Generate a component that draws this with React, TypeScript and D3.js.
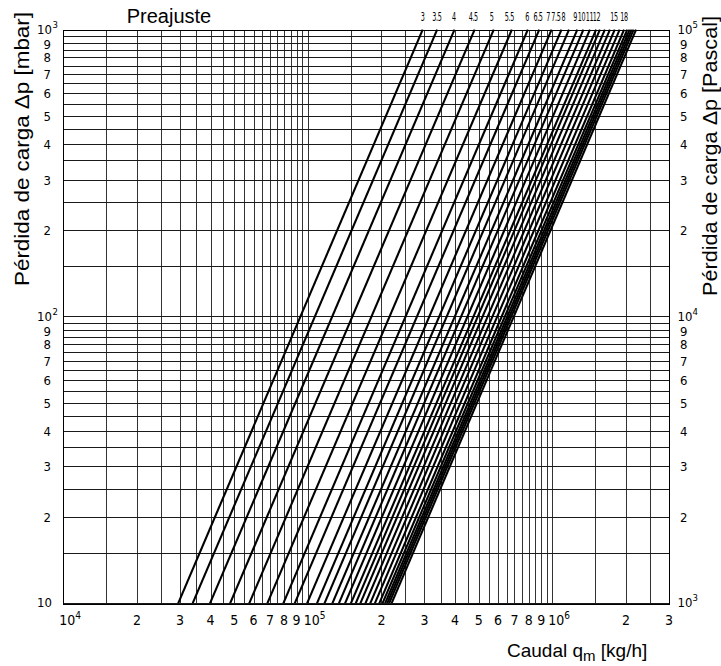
// D3.js — Pressure drop vs. flow chart (log-log), per preset
import React, { useEffect, useRef } from "react";
import * as d3 from "d3";

// Flow (kg/h) of each preset line where it meets 10 mbar and 1000 mbar
const qAt10 = [
  29500, 33800, 39800, 48100, 57600, 68300, 79400, 88400, 99300, 109000,
  117000, 126000, 134000, 142000, 150000, 157000, 164000, 172000, 180000,
  188000, 196000, 202000, 207000, 211000, 215000, 220000,
];
const qAt1000 = [
  295000, 338000, 398000, 481000, 576000, 683000, 794000, 884000, 993000,
  1090000, 1170000, 1265000, 1340000, 1425000, 1510000, 1565000, 1640000,
  1720000, 1800000, 1885000, 1965000, 2025000, 2070000, 2110000, 2150000,
  2200000,
];

// Preset labels along the top edge and the flow they sit above
const presetLabels = ["3", "3.5", "4", "4.5", "5", "5.5", "6", "6.5", "7", "7.5", "8", "9", "10", "11", "12", "15", "18"];
const presetLabelQ = [
  295000, 337000, 396000, 475000, 565000, 667000, 788000, 874000, 962000,
  1034000, 1110000, 1238000, 1317000, 1420000, 1514000, 1788000, 1965000,
];

// Tick labels
const xLabelValues = [
  1e4, 2e4, 3e4, 4e4, 5e4, 6e4, 7e4, 8e4, 9e4,
  1e5, 2e5, 3e5, 4e5, 5e5, 6e5, 7e5, 8e5, 9e5,
  1e6, 2e6, 3e6,
];
const mbarLabelValues = [10, 20, 30, 40, 50, 60, 70, 80, 90, 100, 200, 300, 400, 500, 600, 700, 800, 900, 1000];
const pascalLabelValues = [1e3, 2e3, 3e3, 4e3, 5e3, 6e3, 7e3, 8e3, 9e3, 1e4, 2e4, 3e4, 4e4, 5e4, 6e4, 7e4, 8e4, 9e4, 1e5];

// Grid lines every half unit of mantissa
const gridMantissas = [1, 1.5, 2, 2.5, 3, 3.5, 4, 4.5, 5, 5.5, 6, 6.5, 7, 7.5, 8, 8.5, 9, 9.5];

const W = 721;
const H = 666;
const tickFont = "'Liberation Sans Narrow', 'DejaVu Sans Condensed', sans-serif";
const titleFont = "'Liberation Sans', Arial, sans-serif";

const mantissa = (v: number) => Math.round(v / Math.pow(10, Math.floor(Math.log10(v) + 1e-9)) * 10) / 10;
const exponent = (v: number) => Math.floor(Math.log10(v) + 1e-9);
const crisp = (v: number) => Math.round(v) + 0.5;

const App: React.FC = () => {
  const svgRef = useRef<SVGSVGElement>(null);

  useEffect(() => {
    if (!svgRef.current) return;
    const svg = d3.select(svgRef.current);
    svg.selectAll("*").remove();

    const left = 63.3, right = 669, top = 29.7, bottom = 603.3;

    const x = d3.scaleLog().domain([1e4, 3e6]).range([left, right]);
    const y = d3.scaleLog().domain([10, 1000]).range([bottom, top]);
    const yPa = d3.scaleLog().domain([1e3, 1e5]).range([bottom, top]);

    const xGrid: number[] = [];
    [1e4, 1e5, 1e6].forEach(d => gridMantissas.forEach(m => { if (m * d <= 3e6) xGrid.push(m * d); }));
    const yGrid: number[] = [];
    [10, 100].forEach(d => gridMantissas.forEach(m => yGrid.push(m * d)));
    yGrid.push(1000);

    const g = svg.append("g");

    // Grid
    g.selectAll("line.vg")
      .data(xGrid)
      .join("line")
      .attr("x1", d => crisp(x(d))).attr("x2", d => crisp(x(d)))
      .attr("y1", crisp(top)).attr("y2", crisp(bottom))
      .attr("stroke", "#333").attr("stroke-width", 1);

    g.selectAll("line.hg")
      .data(yGrid)
      .join("line")
      .attr("x1", crisp(left)).attr("x2", crisp(right))
      .attr("y1", d => crisp(y(d))).attr("y2", d => crisp(y(d)))
      .attr("stroke", "#1a1a1a").attr("stroke-width", 1);

    // Frame
    g.append("rect")
      .attr("x", crisp(left)).attr("y", crisp(top))
      .attr("width", Math.round(right - left)).attr("height", Math.round(bottom - top))
      .attr("fill", "none").attr("stroke", "#000").attr("stroke-width", 1);

    // Preset lines
    svg.append("clipPath").attr("id", "plot")
      .append("rect").attr("x", left).attr("y", top - 1)
      .attr("width", right - left).attr("height", bottom - top + 1);

    const line = d3.line<{ q: number; dp: number }>()
      .x(d => x(d.q))
      .y(d => y(d.dp));

    g.append("g")
      .attr("clip-path", "url(#plot)")
      .selectAll("path")
      .data(qAt10.map((q, i) => [{ q, dp: 10 }, { q: qAt1000[i], dp: 1000 }]))
      .join("path")
      .attr("d", d => line(d))
      .attr("fill", "none")
      .attr("stroke", "#000")
      .attr("stroke-width", 2.1);

    // Preset labels (condensed)
    g.selectAll("text.preset")
      .data(presetLabels)
      .join("text")
      .attr("transform", (_, i) => `translate(${x(presetLabelQ[i])},21) scale(0.62,1)`)
      .attr("text-anchor", "middle")
      .attr("font-family", tickFont)
      .attr("font-size", 11.5)
      .attr("letter-spacing", -0.6)
      .text(d => d);

    // Bottom tick labels
    xLabelValues.forEach(v => {
      const m = mantissa(v);
      if (m === 1) {
        const t = g.append("text")
          .attr("x", x(v) - 4).attr("y", 625)
          .attr("font-family", tickFont).attr("font-size", 14);
        t.append("tspan").text("10");
        t.append("tspan").attr("dy", -6).attr("font-size", 10).text(exponent(v));
      } else {
        g.append("text")
          .attr("x", x(v)).attr("y", 625)
          .attr("text-anchor", "middle")
          .attr("font-family", tickFont).attr("font-size", 14)
          .text(m);
      }
    });

    // Baseline for side labels: decades a touch higher, the 9s a touch lower
    const sideBase = (py: number, m: number) => py + (m === 1 ? 4 : m === 9 ? 6 : 5);

    // Left tick labels (mbar)
    mbarLabelValues.forEach(v => {
      const m = mantissa(v);
      const yy = sideBase(y(v), m);
      if (m === 1) {
        g.append("text")
          .attr("x", 52).attr("y", yy)
          .attr("text-anchor", "end")
          .attr("font-family", tickFont).attr("font-size", 13)
          .text("10");
        if (exponent(v) > 1) {
          g.append("text")
            .attr("x", 52.5).attr("y", yy - 6)
            .attr("font-family", tickFont).attr("font-size", 9.5)
            .text(exponent(v));
        }
      } else {
        g.append("text")
          .attr("x", 51).attr("y", yy)
          .attr("text-anchor", "end")
          .attr("font-family", tickFont).attr("font-size", 13)
          .text(m);
      }
    });

    // Right tick labels (Pascal)
    pascalLabelValues.forEach(v => {
      const m = mantissa(v);
      const yy = sideBase(yPa(v), m);
      if (m === 1) {
        const t = g.append("text")
          .attr("x", 677.5).attr("y", yy)
          .attr("font-family", tickFont).attr("font-size", 13);
        t.append("tspan").text("10");
        t.append("tspan").attr("dy", -6).attr("font-size", 9.5).text(exponent(v));
      } else {
        g.append("text")
          .attr("x", 680).attr("y", yy)
          .attr("font-family", tickFont).attr("font-size", 13)
          .text(m);
      }
    });

    // Titles
    g.append("text")
      .attr("x", 169).attr("y", 23)
      .attr("text-anchor", "middle")
      .attr("font-family", titleFont).attr("font-size", 20)
      .text("Preajuste");

    g.append("text")
      .attr("transform", "translate(29,149) rotate(-90)")
      .attr("text-anchor", "middle")
      .attr("font-family", titleFont).attr("font-size", 20.5)
      .attr("textLength", 274)
      .attr("lengthAdjust", "spacingAndGlyphs")
      .text("Pérdida de carga Δp [mbar]");

    g.append("text")
      .attr("transform", "translate(717,156) rotate(-90)")
      .attr("text-anchor", "middle")
      .attr("font-family", titleFont).attr("font-size", 20.5)
      .attr("textLength", 280)
      .attr("lengthAdjust", "spacingAndGlyphs")
      .text("Pérdida de carga Δp [Pascal]");

    const cap = g.append("text")
      .attr("x", 507).attr("y", 657)
      .attr("font-family", titleFont).attr("font-size", 19);
    cap.append("tspan").text("Caudal q");
    cap.append("tspan").attr("dy", 4).attr("font-size", 15).text("m");
    cap.append("tspan").attr("dy", -4).text(" [kg/h]");
  }, []);

  return (
    <svg
      ref={svgRef}
      width={W}
      height={H}
      style={{ position: "absolute", left: 0, top: 0, background: "#fff" }}
    />
  );
};

export default App;
